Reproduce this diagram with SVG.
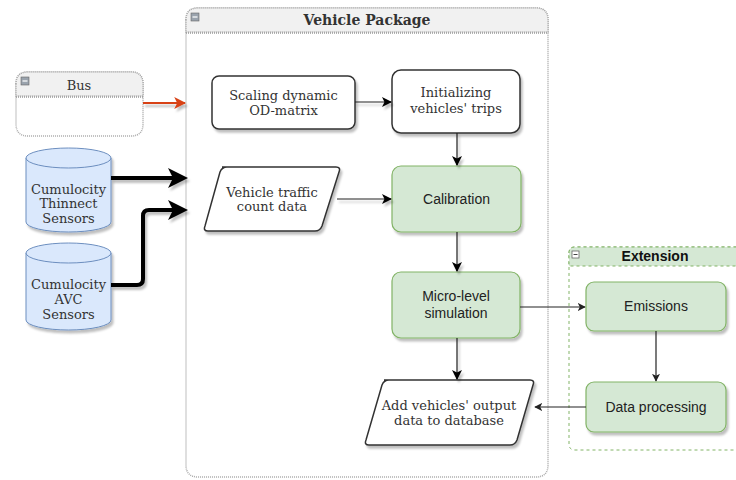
<svg xmlns="http://www.w3.org/2000/svg" width="736" height="480" viewBox="0 0 736 480">
<defs>
<filter id="sh" x="-10%" y="-10%" width="130%" height="140%">
<feDropShadow dx="2" dy="3" stdDeviation="1.2" flood-color="#000" flood-opacity="0.25"/>
</filter>
<marker id="ab" viewBox="0 0 10 10" refX="9" refY="5" markerWidth="10" markerHeight="10" markerUnits="userSpaceOnUse" orient="auto">
<path d="M0,0 L10,5 L0,10 L2.5,5 Z" fill="#000"/>
</marker>
<marker id="ag" viewBox="0 0 10 10" refX="9" refY="5" markerWidth="8" markerHeight="8" markerUnits="userSpaceOnUse" orient="auto">
<path d="M0,0 L10,5 L0,10 L2.5,5 Z" fill="#222"/>
</marker>
<marker id="ar" viewBox="0 0 10 10" refX="9" refY="5" markerWidth="12" markerHeight="12" markerUnits="userSpaceOnUse" orient="auto">
<path d="M0,0 L10,5 L0,10 L2.5,5 Z" fill="#d84315"/>
</marker>
<marker id="abig" viewBox="0 0 10 10" refX="8" refY="5" markerWidth="20" markerHeight="20" markerUnits="userSpaceOnUse" orient="auto">
<path d="M0,0 L10,5 L0,10 L2.5,5 Z" fill="#000"/>
</marker>
</defs>
<style>
.serif{font-family:"DejaVu Serif","Liberation Serif",serif;font-size:13px;fill:#333;text-anchor:middle}
.sans{font-family:"Liberation Sans",Arial,sans-serif;font-size:14px;fill:#222;text-anchor:middle}
.box{fill:#fff;stroke:#333;stroke-width:1.5}
.green{fill:#d5e8d4;stroke:#82b366;stroke-width:1.2}
.cyl{fill:#dae8fc;stroke:#6c8ebf;stroke-width:1}
.hdr{fill:#f1f1f1;stroke:#aaa;stroke-width:1.5;stroke-dasharray:1 1}
.conn{fill:none;stroke:#222;stroke-width:1.2}
.minus{fill:#9aa3ad;stroke:#666;stroke-width:0.6}
</style>

<g id="vehicle-package">
<path d="M186,20 Q186,8 198,8 L536,8 Q548,8 548,20 L548,465 Q548,477 536,477 L198,477 Q186,477 186,465 Z" fill="#fff" stroke="#aaa" stroke-width="1.5" stroke-dasharray="1 1"/>
<path d="M186,20 Q186,8 198,8 L536,8 Q548,8 548,20 L548,32 L186,32 Z" class="hdr"/>
<line x1="186" y1="33" x2="548" y2="33" stroke="#999" stroke-width="1.5" stroke-dasharray="1 1"/>
<rect x="191" y="13" width="8" height="8" class="minus"/>
<line x1="192.5" y1="17" x2="197.5" y2="17" stroke="#fff" stroke-width="1.2"/>
<text x="367" y="25" class="serif" style="font-weight:bold;font-size:14px">Vehicle Package</text>
</g>

<g id="bus">
<path d="M16,84 Q16,72 28,72 L131,72 Q143,72 143,84 L143,124 Q143,136 131,136 L28,136 Q16,136 16,124 Z" fill="#fff" stroke="#aaa" stroke-width="1.5" stroke-dasharray="1 1"/>
<path d="M16,84 Q16,72 28,72 L131,72 Q143,72 143,84 L143,96 L16,96 Z" class="hdr"/>
<line x1="16" y1="97" x2="143" y2="97" stroke="#999" stroke-width="1.5" stroke-dasharray="1 1"/>
<rect x="21" y="77" width="8" height="8" class="minus"/>
<line x1="22.5" y1="81" x2="27.5" y2="81" stroke="#fff" stroke-width="1.2"/>
<text x="79" y="90" class="serif">Bus</text>
</g>

<g id="extension">
<path d="M569,253 Q569,247 575,247 L740,247 L740,450 L575,450 Q569,450 569,444 Z" fill="#fff" stroke="#82b366" stroke-width="1" stroke-dasharray="3 3"/>
<path d="M569,253 Q569,247 575,247 L740,247 L740,266 L569,266 Z" fill="#d5e8d4" stroke="#82b366" stroke-width="1" stroke-dasharray="3 3"/>
<rect x="572" y="251" width="7" height="7" fill="#fff" stroke="#666" stroke-width="0.8"/>
<line x1="573.5" y1="254.5" x2="577.5" y2="254.5" stroke="#444" stroke-width="1"/>
<text x="655" y="261" class="sans" style="font-weight:bold;fill:#111">Extension</text>
</g>

<g id="thinnect">
<path d="M26,158 A42.5,10 0 0 1 111,158 L111,222 A42.5,10 0 0 1 26,222 Z" class="cyl" filter="url(#sh)"/>
<path d="M26,158 A42.5,10 0 0 0 111,158" class="cyl" fill="none"/>
<text class="serif" x="68.5" y="194">Cumulocity</text>
<text class="serif" x="68.5" y="208">Thinnect</text>
<text class="serif" x="68.5" y="223">Sensors</text>
</g>

<g id="avc">
<path d="M26,253 A42.5,10 0 0 1 111,253 L111,320 A42.5,10 0 0 1 26,320 Z" class="cyl" filter="url(#sh)"/>
<path d="M26,253 A42.5,10 0 0 0 111,253" class="cyl" fill="none"/>
<text class="serif" x="68.5" y="289">Cumulocity</text>
<text class="serif" x="68.5" y="304">AVC</text>
<text class="serif" x="68.5" y="319">Sensors</text>
</g>

<g id="scaling">
<rect x="212" y="76" width="143" height="53" rx="7" class="box" filter="url(#sh)"/>
<text class="serif" x="283.5" y="100">Scaling dynamic</text>
<text class="serif" x="283.5" y="115">OD-matrix</text>
</g>

<g id="initializing">
<rect x="392" y="70" width="128" height="63" rx="9" class="box" filter="url(#sh)"/>
<text class="serif" x="456" y="97">Initializing</text>
<text class="serif" x="456" y="113">vehicles' trips</text>
</g>

<g id="traffic-count">
<path d="M222,167 L336,167 Q341,167 339,172 L322,226 Q320,231 315,231 L208,231 Q203,231 205,226 L220,172 Q222,167 227,167 Z" class="box" filter="url(#sh)"/>
<text class="serif" x="272" y="197">Vehicle traffic</text>
<text class="serif" x="272" y="211">count data</text>
</g>

<g id="calibration">
<rect x="392" y="166" width="129" height="66" rx="9" class="green" filter="url(#sh)"/>
<text class="sans" x="456.5" y="204">Calibration</text>
</g>

<g id="micro-level">
<rect x="392" y="272" width="128" height="66" rx="9" class="green" filter="url(#sh)"/>
<text class="sans" x="456" y="301">Micro-level</text>
<text class="sans" x="456" y="318">simulation</text>
</g>

<g id="add-output">
<path d="M384,380 L530,380 Q535,380 533,385 L517,440 Q515,445 510,445 L369,445 Q364,445 366,440 L382,385 Q384,380 389,380 Z" class="box" filter="url(#sh)"/>
<text class="serif" x="449" y="410">Add vehicles' output</text>
<text class="serif" x="449" y="425">data to database</text>
</g>

<g id="emissions">
<rect x="586" y="282" width="140" height="49" rx="8" class="green" filter="url(#sh)"/>
<text class="sans" x="656" y="311">Emissions</text>
</g>

<g id="data-processing">
<rect x="586" y="382" width="140" height="50" rx="8" class="green" filter="url(#sh)"/>
<text class="sans" x="656" y="412">Data processing</text>
</g>

<g id="connectors">
<g filter="url(#sh)">
<line x1="143" y1="103" x2="185" y2="103" stroke="#d84315" stroke-width="2" marker-end="url(#ar)"/>
<line x1="111" y1="178" x2="184" y2="178" stroke="#000" stroke-width="4" marker-end="url(#abig)"/>
<path d="M111,285 L137,285 Q143,285 143,279 L143,216 Q143,210 149,210 L184,210" fill="none" stroke="#000" stroke-width="4" marker-end="url(#abig)"/>
<line x1="355" y1="102" x2="391" y2="102" class="conn" marker-end="url(#ab)"/>
<line x1="457" y1="133" x2="457" y2="165" class="conn" marker-end="url(#ab)"/>
<line x1="337" y1="199" x2="391" y2="199" class="conn" marker-end="url(#ab)"/>
<line x1="457" y1="232" x2="457" y2="271" class="conn" stroke-width="1.6" marker-end="url(#ab)"/>
<line x1="457" y1="338" x2="457" y2="379" class="conn" marker-end="url(#ab)"/>
</g>
<line x1="520" y1="307" x2="585" y2="307" class="conn" stroke="#555" marker-end="url(#ag)"/>
<line x1="656" y1="331" x2="656" y2="381" class="conn" stroke="#555" marker-end="url(#ag)"/>
<line x1="586" y1="407" x2="535" y2="407" class="conn" stroke="#555" marker-end="url(#ag)"/>
</g>
</svg>
